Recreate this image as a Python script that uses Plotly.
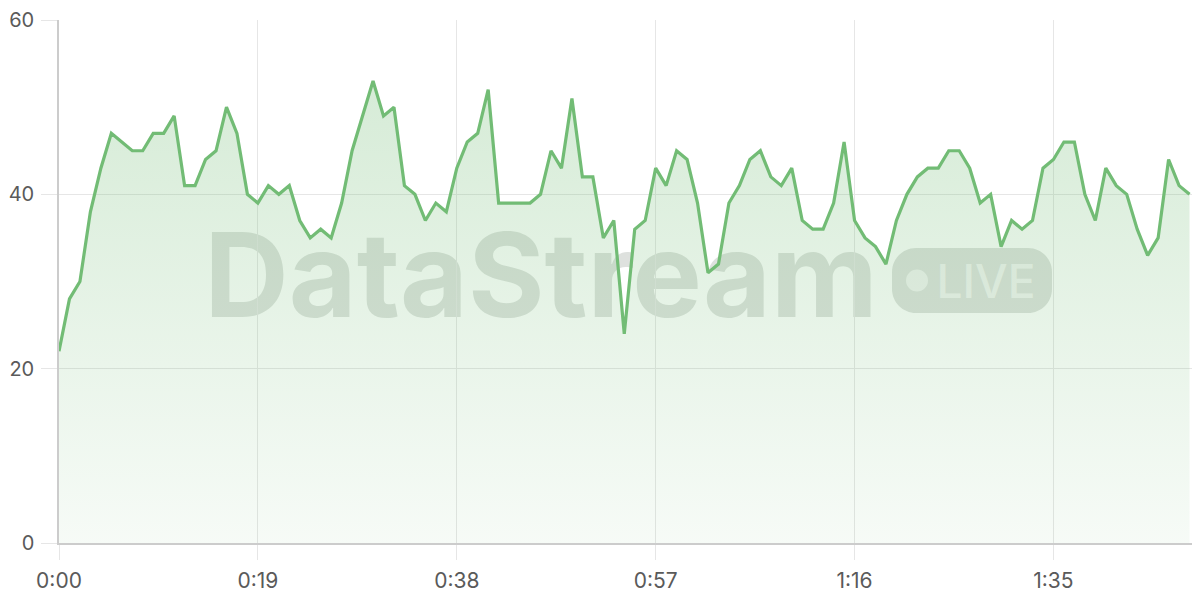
import plotly.graph_objects as go

# ---- data ----
seconds = list(range(109))
values = [
    22, 28, 30, 38, 43, 47, 46, 45, 45, 47, 47, 49, 41, 41, 44, 45, 50, 47, 40, 39,
    41, 40, 41, 37, 35, 36, 35, 39, 45, 49, 53, 49, 50, 41, 40, 37, 39, 38, 43,
    46, 47, 52, 39, 39, 39, 39, 40, 45, 43, 51, 42, 42, 35, 37, 24, 36, 37, 43,
    41, 45, 44, 39, 31, 32, 39, 41, 44, 45, 42, 41, 43, 37, 36, 36, 39, 46, 37,
    35, 34, 32, 37, 40, 42, 43, 43, 45, 45, 43, 39, 40, 34, 37, 36, 37, 43, 44,
    46, 46, 40, 37, 43, 41, 40, 36, 33, 35, 44, 41, 40,
]
x_tick_vals = [0, 19, 38, 57, 76, 95]
x_tick_text = ["0:00", "0:19", "0:38", "0:57", "1:16", "1:35"]
y_tick_vals = [0, 20, 40, 60]
watermark_title = "DataStream"
watermark_badge = "LIVE"

LINE = "#72bc75"
FONT = "Inter, 'Noto Sans', sans-serif"

# figure geometry (page has an 8px body margin)
W, H = 1192, 592
ML, MR, MT, MB = 51, 0, 12, 57
PW, PH = W - ML - MR, H - MT - MB


def px_x(x):  # window px -> paper
    return (x - 8 - ML) / PW


def px_y(y):  # window px -> paper
    return (H - MB - (y - 8)) / PH


fig = go.Figure()
fig.add_trace(go.Scatter(
    x=seconds, y=values, mode="lines",
    line=dict(color=LINE, width=3.2),
    fill="tozeroy",
    fillgradient=dict(
        type="vertical", start=0, stop=55,
        colorscale=[[0, "rgba(114,188,117,0.06)"], [1, "rgba(114,188,117,0.30)"]],
    ),
    hoverinfo="skip",
))

WM = "rgba(88,106,88,0.20)"
pill_cx, pill_cy = px_x(972), px_y(280.5)
shapes = [
    # big title watermark
    dict(type="rect", xref="paper", yref="paper", layer="between",
         x0=px_x(140), x1=px_x(942), y0=px_y(333), y1=px_y(208),
         line=dict(width=0), fillcolor="rgba(0,0,0,0)",
         label=dict(text=watermark_title, textposition="middle center",
                    font=dict(family=FONT, size=117, color=WM, weight=700))),
    # pill
    dict(type="path", xref="paper", yref="paper", layer="between",
         xsizemode="pixel", ysizemode="pixel", xanchor=pill_cx, yanchor=pill_cy,
         path=("M -56,-32.5 L 56,-32.5 C 69.3,-32.5 80,-21.8 80,-8.5 L 80,8.5 "
               "C 80,21.8 69.3,32.5 56,32.5 L -56,32.5 C -69.3,32.5 -80,21.8 -80,8.5 "
               "L -80,-8.5 C -80,-21.8 -69.3,-32.5 -56,-32.5 Z"),
         line=dict(width=0), fillcolor=WM),
    # dot
    dict(type="circle", xref="paper", yref="paper", layer="between",
         xsizemode="pixel", ysizemode="pixel", xanchor=pill_cx, yanchor=pill_cy,
         x0=-66, x1=-44, y0=-11, y1=11,
         line=dict(width=0), fillcolor="rgba(255,255,255,0.6)"),
    # LIVE text
    dict(type="rect", xref="paper", yref="paper", layer="between",
         x0=px_x(930), x1=px_x(1042), y0=px_y(305), y1=px_y(255),
         line=dict(width=0), fillcolor="rgba(0,0,0,0)",
         label=dict(text=watermark_badge, textposition="middle center",
                    font=dict(family=FONT, size=46, color="rgba(255,255,255,0.65)", weight=500))),
]

fig.update_layout(
    width=W, height=H,
    margin=dict(l=ML, r=MR, t=MT, b=MB, autoexpand=False),
    paper_bgcolor="white", plot_bgcolor="white",
    showlegend=False,
    font=dict(family=FONT, size=21, color="#5a5a5a"),
    shapes=shapes,
    xaxis=dict(
        range=[0, 109], tickmode="array", tickvals=x_tick_vals, ticktext=x_tick_text,
        showgrid=True, gridcolor="#e6e6e6", gridwidth=1,
        showline=True, linecolor="#cccccc", linewidth=1.5,
        ticks="outside", ticklen=15, tickcolor="#e6e6e6", tickwidth=1,
        zeroline=False, ticklabelstandoff=3, automargin=False,
        ticklabeloverflow="allow",
    ),
    yaxis=dict(
        range=[0, 60], tickmode="array", tickvals=y_tick_vals,
        showgrid=True, gridcolor="#e6e6e6", gridwidth=1,
        showline=True, linecolor="#cccccc", linewidth=1.5,
        ticks="outside", ticklen=16, tickcolor="#e6e6e6", tickwidth=1,
        zeroline=False, ticklabelstandoff=3, automargin=False,
        ticklabeloverflow="allow", tickfont=dict(size=20),
    ),
)

fig.write_html("out.html")
